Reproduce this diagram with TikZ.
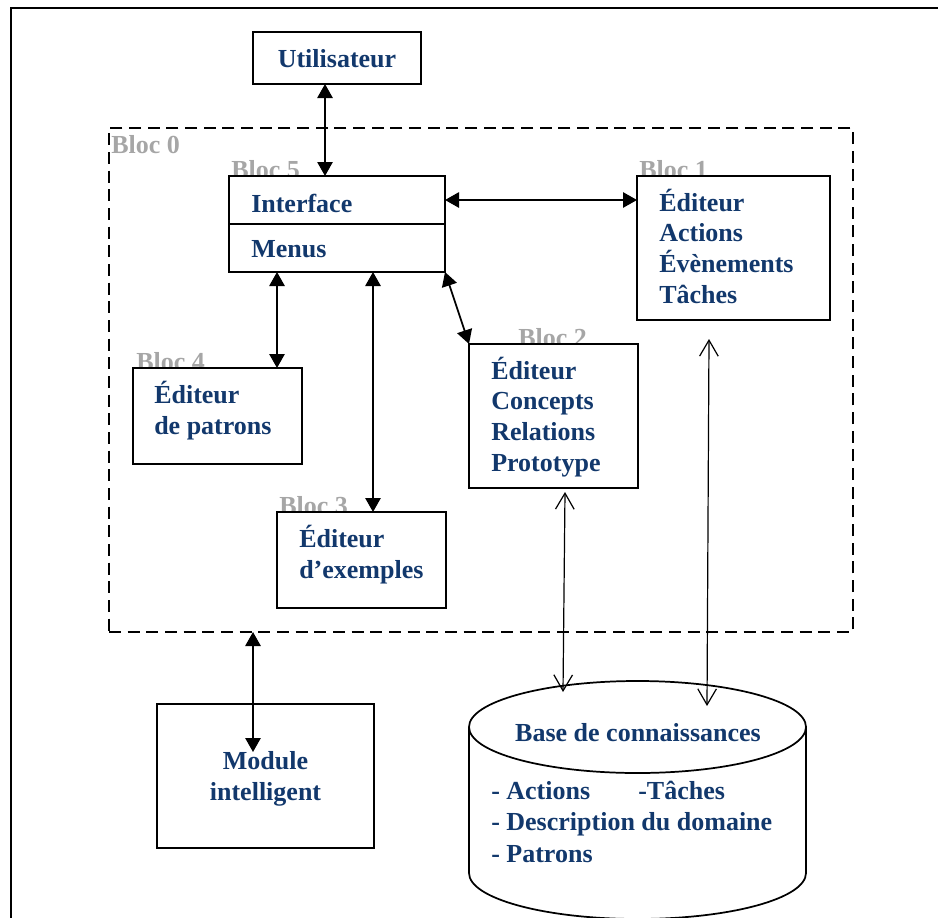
\documentclass[tikz,border=0pt]{standalone}
\usepackage{fontspec}
\setmainfont{Liberation Serif}
\usetikzlibrary{arrows.meta,calc}
\definecolor{navy}{RGB}{18,56,108}
\definecolor{blocgray}{RGB}{166,166,166}
\begin{document}
\begin{tikzpicture}[x=0.75pt,y=-0.75pt,
  box/.style={draw=black,line width=1.3pt,fill=white,inner sep=0pt,outer sep=0pt,anchor=north west},
  txt/.style={text=navy,font=\fontsize{19.5}{23}\selectfont\bfseries,inner sep=0pt,anchor=base west,align=left},
  bloclbl/.style={text=blocgray,font=\fontsize{19.5}{23}\selectfont\bfseries,inner sep=0pt,anchor=base west},
  both/.style={line width=1.3pt,{Triangle[length=10.5pt,width=11.5pt]}-{Triangle[length=10.5pt,width=11.5pt]}},
  open/.style={line width=0.9pt,{Straight Barb[length=12pt,width=14pt]}-{Straight Barb[length=12pt,width=14pt]}}]
\useasboundingbox (0,0) rectangle (938,917);
\clip (0,0) rectangle (938,917);
% outer frame
\draw[line width=1.5pt] (11,960) -- (11,8) -- (960,8);
% Bloc 0 dashed
\node[box,fill=none,dash pattern=on 9pt off 5pt,line width=1.1pt,minimum width=558pt,minimum height=378pt] (b0) at (109,128) {};
\node[bloclbl] (l0) at (111,153) {Bloc 0};
% labels drawn under boxes
\node[bloclbl] (l5) at (231,178) {Bloc 5};
\node[bloclbl] (l1) at (639,178) {Bloc 1};
\node[bloclbl] (l2) at (518,346) {Bloc 2};
\node[bloclbl] (l4) at (136,370) {Bloc 4};
\node[bloclbl] (l3) at (279,514) {Bloc 3};
% boxes
\node[box,minimum width=126pt,minimum height=39pt] (user) at (253,32) {};
\node[box,minimum width=162pt,minimum height=72pt] (b5) at (229,176) {};
\draw[line width=1.3pt] (b5.west |- 0,224) coordinate (d1) -- (b5.east |- d1);
\node[box,minimum width=144.75pt,minimum height=108pt] (b1) at (637,176) {};
\node[box,minimum width=126.75pt,minimum height=108pt] (b2) at (469,344) {};
\node[box,minimum width=126.75pt,minimum height=72pt] (b4) at (133,368) {};
\node[box,minimum width=126.75pt,minimum height=72pt] (b3) at (277,512) {};
\node[box,minimum width=162.75pt,minimum height=108pt] (mod) at (157,704) {};
% cylinder
\path[draw=black,line width=1.3pt,fill=white] (469,727) -- (469,873) arc[start angle=180,end angle=0,x radius=168.5,y radius=46] -- (806,727);
\draw[line width=1.3pt,fill=white] (637.5,727) ellipse[x radius=168.5,y radius=46];
\coordinate (kb) at (637.5,727);
% texts (base = baseline of last line)
\node[txt,anchor=base] (tuser) at (337,68) {Utilisateur};
\node[txt] (tint) at (251,212) {Interface};
\node[txt] (tmen) at (251,257) {Menus};
\node[txt] (t1) at (659,303) {Éditeur\\Actions\\Évènements\\Tâches};
\node[txt] (t2) at (491,471) {Éditeur\\Concepts\\Relations\\Prototype};
\node[txt] (t4) at (154,434) {Éditeur\\de patrons};
\node[txt] (t3) at (299,578) {Éditeur\\d’exemples};
\node[txt,align=center,anchor=base] (tmod) at (265.5,800) {Module\\intelligent};
\node[txt,anchor=base] (tkb) at (638,741) {Base de connaissances};
\node[txt] (tkb1) at (491,799) {- Actions};
\node[txt] (tkb2) at (638,799) {-Tâches};
\node[txt] (tkb3) at (491,830) {- Description du domaine};
\node[txt] (tkb4) at (491,862) {- Patrons};
% connectors
\coordinate (xa) at (325,0);
\coordinate (xb) at (277,0);
\coordinate (xc) at (373,0);
\coordinate (ya) at (0,200);
\draw[both] (user.south -| xa) -- (b5.north -| xa);
\draw[both] (b5.east |- ya) -- (b1.west |- ya);
\draw[both] (b5.south -| xb) -- (b4.north -| xb);
\draw[both] (b5.south -| xc) -- (b3.north -| xc);
\draw[both] (b5.south east) -- (b2.north west);
\coordinate (m1) at (253,752);
\draw[both] (b0.south -| m1) -- (m1);
\coordinate (k2a) at (565,492);
\coordinate (k2b) at (563,692);
\draw[open] (k2a) -- (k2b);
\coordinate (k1a) at (709,339);
\coordinate (k1b) at (707,706);
\draw[open] (k1a) -- (k1b);
\end{tikzpicture}
\end{document}
